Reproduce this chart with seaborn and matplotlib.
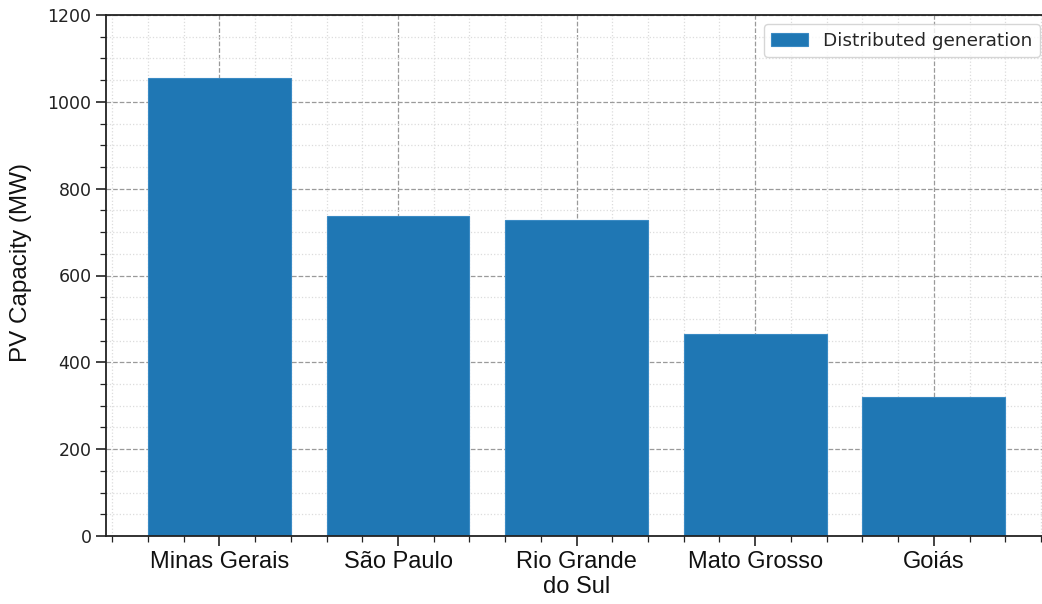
import matplotlib
matplotlib.use("Agg")
import matplotlib.pyplot as plt
import seaborn as sns
import pandas as pd

# Cumulative distributed-generation PV capacity by state (MW)
states = ["Minas Gerais", "São Paulo", "Rio Grande\ndo Sul", "Mato Grosso", "Goiás"]
capacity_mw = [1055, 738, 728, 465, 320]
series_name = "Distributed generation"

df = pd.DataFrame({"State": states, "Capacity": capacity_mw, "Source": series_name})

sns.set_theme(style="white")
plt.rcParams["font.family"] = ["DejaVu Sans"]

fig = plt.figure(figsize=(10.42, 6.04), dpi=100)
ax = fig.add_axes([106 / 1042, 68 / 604, 943 / 1042, 521 / 604])

sns.barplot(data=df, x="State", y="Capacity", hue="Source",
            palette=["#1f77b4"], saturation=1, width=0.8, ax=ax,
            edgecolor="#3a8ac4", linewidth=0.8)

ax.set_xlim(-0.635, 4.645)
ax.set_ylim(0, 1200)
ax.set_yticks(range(0, 1201, 200))
ax.minorticks_on()

ax.grid(which="major", linestyle="--", color="#9a9a9a", linewidth=0.9)
ax.grid(which="minor", linestyle=":", color="#dcdcdc", linewidth=0.9)
ax.set_axisbelow(True)

for side in ["left", "bottom", "top"]:
    ax.spines[side].set_visible(True)
    ax.spines[side].set_color("#222222")
    ax.spines[side].set_linewidth(1.3)
ax.spines["right"].set_visible(False)

ax.tick_params(axis="both", which="major", direction="out", length=7, width=1.2,
               color="#222222", left=True, bottom=True)
ax.tick_params(axis="both", which="minor", direction="out", length=4, width=0.9,
               color="#222222", left=True, bottom=True)
ax.tick_params(axis="y", labelsize=12.5, labelcolor="#222222")

ax.set_xticks(range(len(states)))
ax.set_xticklabels(states, fontsize=17, family="Liberation Sans", color="#111111")
ax.set_xlabel("")
ax.set_ylabel("PV Capacity (MW)", fontsize=17.5, family="Liberation Sans", color="#111111")
ax.yaxis.set_label_coords(-0.078, 0.524)

leg = ax.legend(loc="upper right", fontsize=13.3, frameon=True, fancybox=True,
                edgecolor="#cccccc", framealpha=0.8)

fig.savefig("out.png", dpi=100)
